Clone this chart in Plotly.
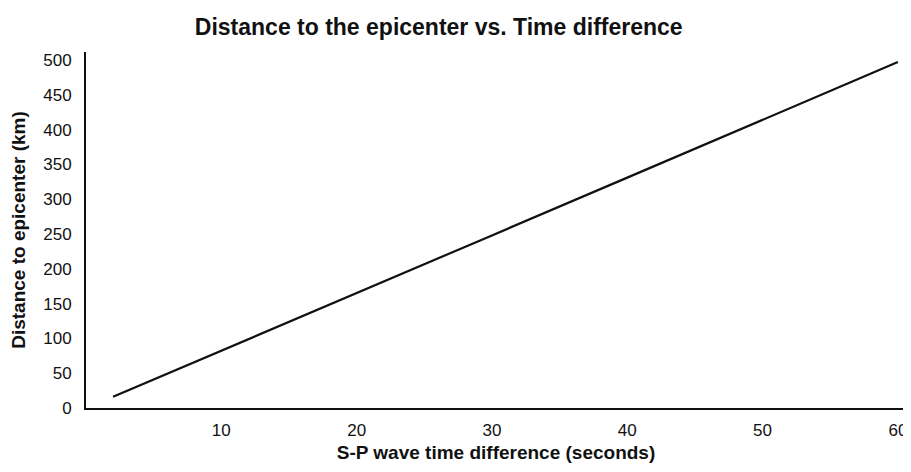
import plotly.graph_objects as go

time_diff = [2, 10, 20, 30, 40, 50, 60]
distance = [16, 82, 165, 248, 331, 414, 497]
y_ticks = [0, 50, 100, 150, 200, 250, 300, 350, 400, 450, 500]
x_ticks = [10, 20, 30, 40, 50, 60]

fig = go.Figure()
fig.add_trace(go.Scatter(x=time_diff, y=distance, mode="lines",
                         line=dict(color="#111111", width=2.2), showlegend=False))

font = "Liberation Sans, Arial, sans-serif"
fig.update_layout(
    width=903, height=464,
    margin=dict(l=78, r=5, t=44, b=64),
    paper_bgcolor="white", plot_bgcolor="white",
    title=dict(text="<b>Distance to the epicenter vs. Time difference</b>",
               x=0.477, xanchor="center", y=0.959, yanchor="middle",
               font=dict(family=font, size=23, color="#111111")),
    xaxis=dict(range=[0, 60.6], tickvals=x_ticks, showgrid=False, zeroline=False,
               showline=True, linecolor="#111111", linewidth=2, ticks="",
               automargin=False, ticklabelstandoff=6, ticklabeloverflow="allow",
               tickfont=dict(family=font, size=17, color="#111111"),
               title=dict(text="<b>S-P wave time difference (seconds)</b>", standoff=6,
                          font=dict(family=font, size=19, color="#111111"))),
    yaxis=dict(range=[0, 511.5], tickvals=y_ticks, showgrid=False, zeroline=False,
               showline=True, linecolor="#111111", linewidth=2, ticks="",
               automargin=False, ticklabelstandoff=9,
               tickfont=dict(family=font, size=17, color="#111111"),
               title=dict(text="<b>Distance to epicenter (km)</b>", standoff=13,
                          font=dict(family=font, size=19, color="#111111"))),
)
fig.write_html("out.html")
